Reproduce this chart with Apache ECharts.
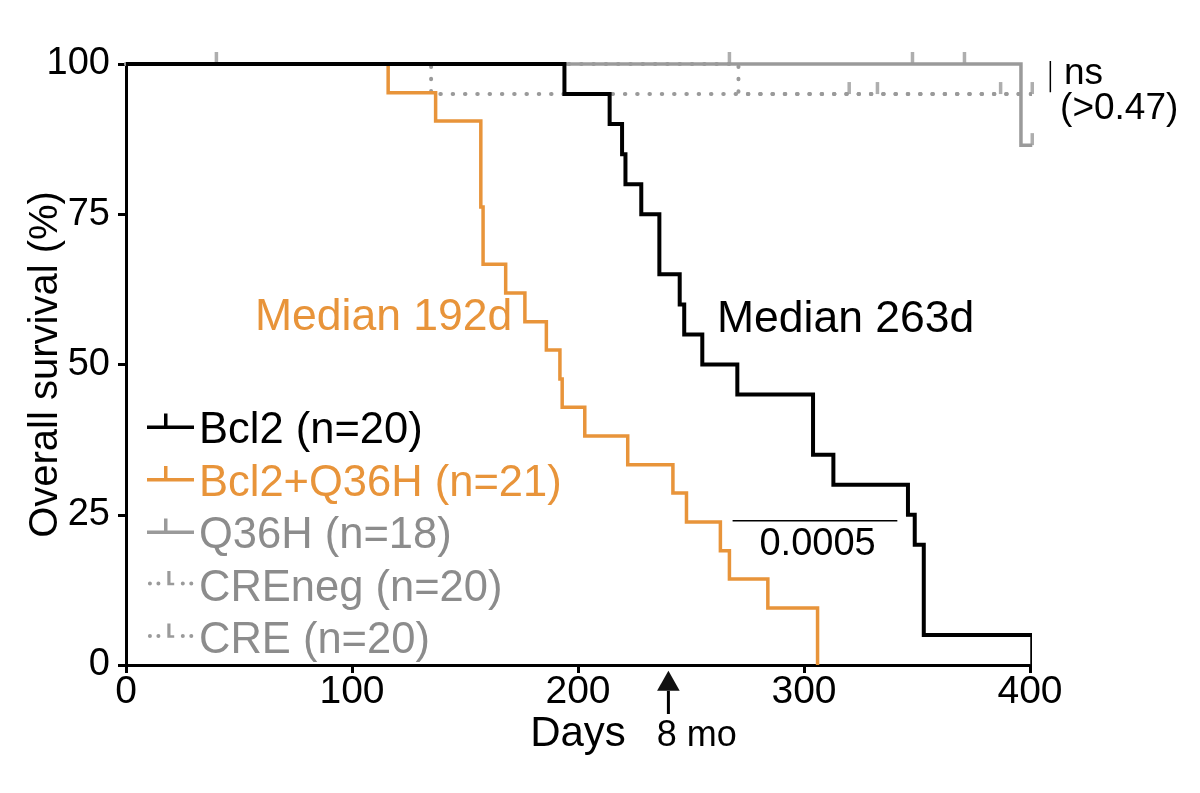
<!DOCTYPE html>
<html>
<head>
<meta charset="utf-8">
<script src="https://cdn.jsdelivr.net/npm/echarts@6/dist/echarts.min.js"></script>
<style>
html,body{margin:0;padding:0;background:#fff;}
#main{width:1200px;height:793px;}
</style>
</head>
<body>
<div id="main"></div>
<script>
// survival curves (days, % alive)
var bcl2Days = [0, 194, 214, 219.5, 221, 228, 236, 245, 247, 255, 270.5, 304, 313, 346, 349, 353, 401];
var bcl2Surv = [100, 95, 90, 85, 80, 75, 65, 60, 55, 50, 45, 35, 30, 25, 20, 5, 0];

var bq36hDays = [0, 116, 137, 157, 158, 168, 176.5, 186, 192, 193, 203, 222, 242, 248, 263, 267, 284, 306];
var bq36hSurv = [100, 95.2, 90.5, 76.2, 66.7, 61.9, 57.1, 52.4, 47.6, 42.9, 38.1, 33.3, 28.6, 23.8, 19.0, 14.3, 9.5, 0];

var q36hDays = [0, 396, 401];
var q36hSurv = [100, 86.5, 86.5];
var q36hCensDays = [40, 267, 348, 371, 401];
var q36hCensSurv = [100, 100, 100, 100, 86.5];

var crenegDays = [0, 135, 401];
var crenegSurv = [100, 95, 95];
var crenegCensDays = [320, 387];
var crenegCensSurv = [95, 95];

var creDays = [0, 271, 401];
var creSurv = [100, 95, 95];
var creCensDays = [332.5, 401];
var creCensSurv = [95, 95];

var xTicks = [0, 100, 200, 300, 400];
var yTicks = [0, 25, 50, 75, 100];

var names = ['Bcl2 (n=20)', 'Bcl2+Q36H (n=21)', 'Q36H (n=18)', 'CREneg (n=20)', 'CRE (n=20)'];

var BLACK = '#000000', ORANGE = '#E8943A', GRAY = '#9a9a9a', GRAYTXT = '#8c8c8c';
var FONT = '"Liberation Sans", Arial, Helvetica, sans-serif';

function zip(a, b) {
	var out = [];
	for (var i = 0; i < a.length; i++) out.push([a[i], b[i]]);
	return out;
}

// legend icons: line with a censor tick
var solidIcon = 'path://M0,12H47V15.5H0Z M17,0H20.5V12H17Z M0,35L0.01,35';
var dotIcon = 'path://M0.2,13.7a1.9,1.9 0 1,0 3.8,0a1.9,1.9 0 1,0 -3.8,0Z' +
	'M8.2,13.7a1.9,1.9 0 1,0 3.8,0a1.9,1.9 0 1,0 -3.8,0Z' +
	'M18.5,2H21.5V15.5H18.5Z M21.5,13H25V15.5H21.5Z' +
	'M31.2,13.7a1.9,1.9 0 1,0 3.8,0a1.9,1.9 0 1,0 -3.8,0Z' +
	'M39.2,13.7a1.9,1.9 0 1,0 3.8,0a1.9,1.9 0 1,0 -3.8,0Z M0,35L0.01,35';

function kmLine(name, days, surv, color, width, dash, z) {
	return {
		name: name,
		type: 'line',
		step: 'end',
		symbol: 'none',
		clip: false,
		silent: true,
		z: z,
		color: color,
		lineStyle: {color: color, width: width, type: dash || 'solid', cap: dash ? 'round' : 'butt', join: 'miter'},
		data: zip(days, surv)
	};
}
function censor(name, days, surv, color, z) {
	return {
		name: name,
		type: 'scatter',
		symbol: 'rect',
		symbolSize: [3.5, 12],
		symbolOffset: [0, '-50%'],
		clip: false,
		silent: true,
		z: z,
		itemStyle: {color: color},
		data: zip(days, surv)
	};
}

var chart = echarts.init(document.getElementById('main'));
var option = {
	backgroundColor: '#fff',
	animation: false,
	textStyle: {fontFamily: FONT},
	grid: {left: 126, right: 170, top: 64, bottom: 128, containLabel: false, outerBoundsMode: 'none'},
	legend: {
		orient: 'vertical',
		left: 147,
		top: 409,
		padding: 0,
		itemGap: 8.5,
		itemWidth: 47,
		itemHeight: 35,
		selectedMode: false,
		itemStyle: {borderWidth: 0},
		textStyle: {fontSize: 43.5, fontFamily: FONT},
		data: [
			{name: names[0], icon: solidIcon, textStyle: {color: BLACK}},
			{name: names[1], icon: solidIcon, textStyle: {color: ORANGE}},
			{name: names[2], icon: solidIcon, textStyle: {color: GRAYTXT}},
			{name: names[3], icon: dotIcon, textStyle: {color: GRAYTXT}},
			{name: names[4], icon: dotIcon, textStyle: {color: GRAYTXT}}
		]
	},
	xAxis: {
		type: 'value',
		min: xTicks[0],
		max: xTicks[xTicks.length - 1],
		interval: xTicks[1] - xTicks[0],
		name: 'Days',
		nameLocation: 'middle',
		nameGap: 48,
		nameMoveOverlap: false,
		nameTextStyle: {fontSize: 42, color: BLACK},
		axisLine: {lineStyle: {color: BLACK, width: 3}},
		axisTick: {length: 8, lineStyle: {color: BLACK, width: 3}},
		axisLabel: {fontSize: 39, color: BLACK, margin: 8},
		splitLine: {show: false}
	},
	yAxis: {
		type: 'value',
		min: yTicks[0],
		max: yTicks[yTicks.length - 1],
		interval: yTicks[1] - yTicks[0],
		name: 'Overall survival (%)',
		nameLocation: 'middle',
		nameGap: 60,
		nameMoveOverlap: false,
		nameTextStyle: {fontSize: 40, color: BLACK},
		axisLine: {show: true, lineStyle: {color: BLACK, width: 3}},
		axisTick: {show: true, length: 8, lineStyle: {color: BLACK, width: 3}},
		axisLabel: {fontSize: 38, color: BLACK, margin: 16},
		splitLine: {show: false}
	},
	series: [
		kmLine(names[3], crenegDays, crenegSurv, GRAY, 4, [0.5, 11.8], 1),
		kmLine(names[4], creDays, creSurv, GRAY, 4, [0.5, 11.8], 1),
		censor('CREneg cens', crenegCensDays, crenegCensSurv, GRAY, 2),
		censor('CRE cens', creCensDays, creCensSurv, GRAY, 2),
		kmLine(names[2], q36hDays, q36hSurv, GRAY, 3.5, null, 3),
		censor('Q36H cens', q36hCensDays, q36hCensSurv, GRAY, 3),
		kmLine(names[1], bq36hDays, bq36hSurv, ORANGE, 3.5, null, 4),
		kmLine(names[0], bcl2Days, bcl2Surv, BLACK, 4, null, 5)
	]
};
chart.setOption(option);

// annotations placed in data space
function px(d, s) { return chart.convertToPixel({xAxisIndex: 0, yAxisIndex: 0}, [d, s]); }
function txt(str, p, size, color, align) {
	return {type: 'text', x: p[0], y: p[1], silent: true, z: 10,
		style: {text: str, fill: color, font: size + 'px ' + FONT, align: align || 'center', verticalAlign: 'middle'}};
}
function seg(a, b, w) {
	return {type: 'line', silent: true, z: 10, shape: {x1: a[0], y1: a[1], x2: b[0], y2: b[1]},
		style: {stroke: BLACK, lineWidth: w}};
}
var apex = px(240, -0.95), baseL = px(235, -4.3), baseR = px(245, -4.3);
chart.setOption({
	graphic: [
		txt('Median 192d', px(114, 57.7), 44.5, ORANGE),
		txt('Median 263d', px(318.4, 57.5), 44.5, BLACK),
		seg(px(268.4, 24), px(341.3, 24), 1.5),
		txt('0.0005', px(306, 20), 38, BLACK),
		seg(px(409, 100.5), px(409, 95.3), 1.5),
		txt('ns', px(415, 98.3), 37, BLACK, 'left'),
		txt('(>0.47)', px(413.3, 92.5), 37, BLACK, 'left'),
		{type: 'polygon', silent: true, z: 10, shape: {points: [apex, baseL, baseR]}, style: {fill: '#111'}},
		seg(px(240, -4.3), px(240, -8.15), 3),
		txt('8 mo', px(234.8, -11.8), 36, BLACK, 'left')
	]
});
</script>
</body>
</html>
